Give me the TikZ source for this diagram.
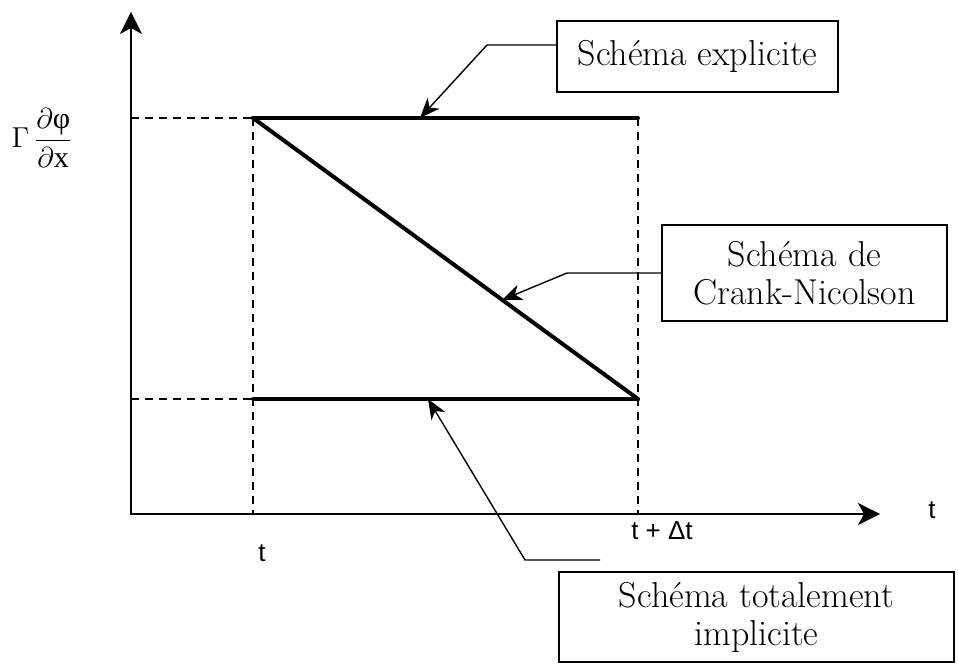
\documentclass[tikz,border=0pt]{standalone}
\usepackage{fontspec}
\newfontfamily\tfont{Liberation Sans}
\newfontfamily\sfnt{Liberation Serif}
\usetikzlibrary{arrows.meta}
\begin{document}
\begin{tikzpicture}[x=0.5pt,y=-0.5pt,
 axisline/.style={line width=1pt,arrows={Stealth[length=11pt,width=11pt,inset=3pt]-Stealth[length=11pt,width=11pt,inset=3pt]}},
 curve/.style={line width=2pt, line cap=round},
 guide/.style={line width=0.9pt, dash pattern=on 4pt off 3pt},
 pointer/.style={line width=0.7pt,-{Stealth[length=10pt,width=8pt,inset=3pt]}},
 labelbox/.style={draw, line width=0.7pt, inner sep=0pt, align=center, font=\fontsize{18}{19}\selectfont},
 tlabel/.style={font=\tfont\fontsize{13}{15}\selectfont, inner sep=0pt}]
\useasboundingbox (0,0) rectangle (958,667);
% axes
\coordinate (O) at (131,514);
\coordinate (ytop) at (131,12);
\coordinate (xend) at (880,514);
\draw[axisline] (ytop) -- (O) -- (xend);
% key points
\coordinate (TL) at (253,118);
\coordinate (TR) at (638,118);
\coordinate (BL) at (253,399);
\coordinate (BR) at (638,399);
\coordinate (yT) at (131,118);
\coordinate (yB) at (131,399);
\coordinate (xL) at (253,514);
\coordinate (xR) at (638,514);
% guides
\draw[guide] (yT) -- (TL);
\draw[guide] (yB) -- (BL);
\draw[guide] (TL) -- (xL);
\draw[guide] (TR) -- (xR);
% schemes
\draw[curve] (TL) -- (TR);
\draw[curve] (BL) -- (BR);
\draw[curve] (TL) -- (BR);
% labels
\node (ylab) at (42,138) {\fontsize{15}{17}\selectfont$\Gamma\,\displaystyle\frac{\partial\mbox{\sfnt φ}}{\partial\mbox{\sfnt x}}$};
\node[tlabel] (tA) at (262,553) {t};
\node[tlabel] (tB) at (662,531) {t + Δt};
\node[tlabel] (tC) at (932,510) {t};
% boxes
\node[labelbox, minimum width=140.5pt, minimum height=35.5pt] (expl) at (697.5,56.5) {Schéma explicite};
\node[labelbox, minimum width=142.5pt, minimum height=48pt] (cn) at (804.5,273) {Schéma de\\Crank-Nicolson};
\node[labelbox, minimum width=197.5pt, minimum height=45pt] (impl) at (756.5,617) {Schéma totalement\\implicite};
% pointers
\coordinate (eK) at (487,45);
\coordinate (eTip) at (420,118);
\draw[pointer] (expl.west |- eK) -- (eK) -- (eTip);
\coordinate (cK) at (567,273);
\coordinate (cTip) at (502,300);
\draw[pointer] (cn.west) -- (cK) -- (cTip);
\coordinate (iS) at (600,560);
\coordinate (iK) at (525,560);
\coordinate (iTip) at (428,399);
\draw[pointer] (iS) -- (iK) -- (iTip);
\end{tikzpicture}
\end{document}
